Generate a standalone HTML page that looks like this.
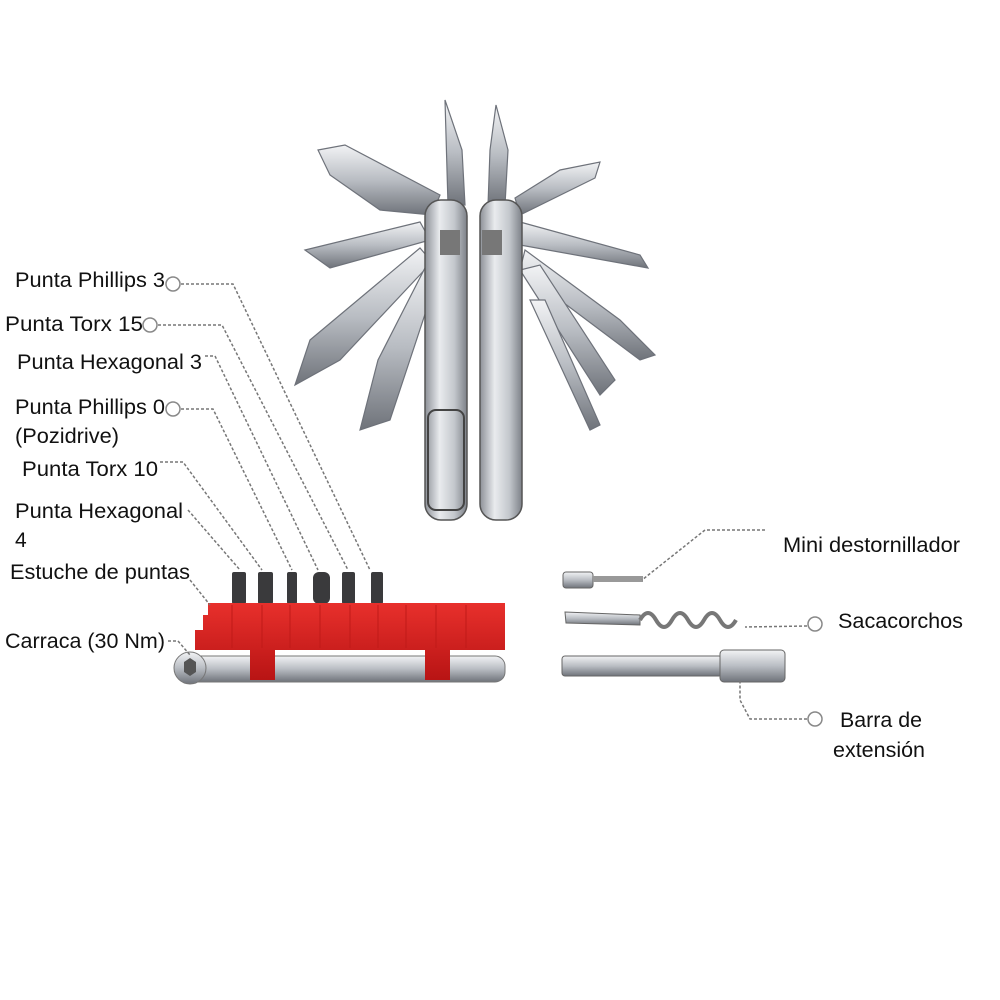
<!DOCTYPE html>
<html><head><meta charset="utf-8"><style>
html,body{margin:0;padding:0;background:#fff;}
svg{display:block;}
text{font-family:"Liberation Sans",Arial,sans-serif;font-size:21px;fill:#111;}
</style></head><body>
<svg width="1000" height="1000" viewBox="0 0 1000 1000" xmlns="http://www.w3.org/2000/svg">
<defs>
<linearGradient id="m" x1="0" y1="0" x2="1" y2="0">
<stop offset="0" stop-color="#8d9198"/><stop offset="0.35" stop-color="#e9ebee"/><stop offset="0.7" stop-color="#c3c7cc"/><stop offset="1" stop-color="#7d8188"/></linearGradient>
<linearGradient id="mv" x1="0" y1="0" x2="0" y2="1">
<stop offset="0" stop-color="#f2f3f5"/><stop offset="0.5" stop-color="#b9bdc3"/><stop offset="1" stop-color="#6f737a"/></linearGradient>
<linearGradient id="r" x1="0" y1="0" x2="0" y2="1">
<stop offset="0" stop-color="#e8302c"/><stop offset="1" stop-color="#b81414"/></linearGradient>
</defs>

<g fill="url(#mv)" stroke="#6e727a" stroke-width="1.2">
<polygon points="318,150 345,145 440,195 432,215 380,210 330,175"/>
<polygon points="305,250 420,222 430,240 330,268"/>
<polygon points="295,385 310,340 420,248 432,262 340,360"/>
<polygon points="360,430 378,360 428,262 438,275 390,420"/>
<polygon points="445,100 462,150 465,205 448,205"/>
<polygon points="496,105 508,150 505,205 488,205 490,150"/>
<polygon points="600,162 595,178 520,215 515,198 560,170"/>
<polygon points="520,222 640,255 648,268 520,245"/>
<polygon points="525,250 620,320 655,355 640,360 520,270"/>
<polygon points="520,270 600,395 615,380 540,265"/>
<polygon points="530,300 590,430 600,425 545,300"/>
</g>
<rect x="425" y="200" width="42" height="320" rx="16" fill="url(#m)" stroke="#555" stroke-width="1.5"/>
<rect x="480" y="200" width="42" height="320" rx="16" fill="url(#m)" stroke="#555" stroke-width="1.5"/>
<rect x="440" y="230" width="20" height="25" fill="#777"/>
<rect x="482" y="230" width="20" height="25" fill="#777"/>
<rect x="428" y="410" width="36" height="100" fill="none" stroke="#444" stroke-width="2" rx="8"/>

<rect x="563" y="572" width="30" height="16" rx="3" fill="url(#mv)" stroke="#666"/>
<rect x="593" y="576" width="50" height="6" fill="#999"/>
<polygon points="565,612 640,615 640,625 566,623" fill="url(#mv)" stroke="#666"/>
<path d="M640,620 q8,-14 16,0 q8,14 16,0 q8,-14 16,0 q8,14 16,0 q8,-14 16,0 q8,14 16,0" fill="none" stroke="#777" stroke-width="4"/>
<rect x="562" y="656" width="160" height="20" rx="3" fill="url(#mv)" stroke="#666"/>
<rect x="720" y="650" width="65" height="32" rx="4" fill="url(#mv)" stroke="#666"/>

<g fill="#3a3a3c">
<rect x="232" y="572" width="14" height="32" rx="2"/>
<rect x="258" y="572" width="15" height="32" rx="2"/>
<rect x="287" y="572" width="10" height="32" rx="2"/>
<rect x="313" y="572" width="17" height="32" rx="6"/>
<rect x="342" y="572" width="13" height="32" rx="2"/>
<rect x="371" y="572" width="12" height="32" rx="2"/>
</g>
<rect x="185" y="656" width="320" height="26" rx="10" fill="url(#mv)" stroke="#777"/>
<circle cx="190" cy="668" r="16" fill="url(#mv)" stroke="#777"/>
<polygon points="184,662 190,658 196,662 196,672 190,676 184,672" fill="#555"/>
<path d="M208,603 L505,603 L505,650 L450,650 L450,680 L425,680 L425,650 L275,650 L275,680 L250,680 L250,650 L195,650 L195,630 L203,630 L203,615 L208,615 Z" fill="url(#r)"/>
<g stroke="#c01a18" stroke-width="1">
<line x1="232" y1="605" x2="232" y2="648"/><line x1="262" y1="605" x2="262" y2="648"/>
<line x1="290" y1="605" x2="290" y2="648"/><line x1="320" y1="605" x2="320" y2="648"/>
<line x1="350" y1="605" x2="350" y2="648"/><line x1="378" y1="605" x2="378" y2="648"/>
<line x1="406" y1="605" x2="406" y2="648"/><line x1="436" y1="605" x2="436" y2="648"/>
<line x1="466" y1="605" x2="466" y2="648"/>
</g>

<g fill="none" stroke="#777" stroke-width="1.5" stroke-dasharray="3,2">
<polyline points="181,284 233,284 370,570"/>
<polyline points="158,325 222,325 348,570"/>
<polyline points="205,356 215,356 318,570"/>
<polyline points="181,409 213,409 292,570"/>
<polyline points="160,462 183,462 262,570"/>
<polyline points="188,510 240,570"/>
<polyline points="190,580 210,605"/>
<polyline points="168,641 178,641 190,655"/>
<polyline points="765,530 705,530 642,580"/>
<polyline points="807,626 745,627"/>
<polyline points="807,719 750,719 740,700 740,680"/>
</g>
<g fill="#fff" stroke="#888" stroke-width="1.5">
<circle cx="173" cy="284" r="7"/>
<circle cx="150" cy="325" r="7"/>
<circle cx="173" cy="409" r="7"/>
<circle cx="815" cy="624" r="7"/>
<circle cx="815" cy="719" r="7"/>
</g>

<g>
<text x="15" y="287" textLength="150" lengthAdjust="spacingAndGlyphs">Punta Phillips 3</text>
<text x="5" y="331" textLength="138" lengthAdjust="spacingAndGlyphs">Punta Torx 15</text>
<text x="17" y="369" textLength="185" lengthAdjust="spacingAndGlyphs">Punta Hexagonal 3</text>
<text x="15" y="414" textLength="150" lengthAdjust="spacingAndGlyphs">Punta Phillips 0</text>
<text x="15" y="443" textLength="104" lengthAdjust="spacingAndGlyphs">(Pozidrive)</text>
<text x="22" y="476" textLength="136" lengthAdjust="spacingAndGlyphs">Punta Torx 10</text>
<text x="15" y="518" textLength="168" lengthAdjust="spacingAndGlyphs">Punta Hexagonal</text>
<text x="15" y="547">4</text>
<text x="10" y="579" textLength="180" lengthAdjust="spacingAndGlyphs">Estuche de puntas</text>
<text x="5" y="648" textLength="160" lengthAdjust="spacingAndGlyphs">Carraca (30 Nm)</text>
<text x="783" y="552" textLength="177" lengthAdjust="spacingAndGlyphs">Mini destornillador</text>
<text x="838" y="628" textLength="125" lengthAdjust="spacingAndGlyphs">Sacacorchos</text>
<text x="840" y="727" textLength="82" lengthAdjust="spacingAndGlyphs">Barra de</text>
<text x="833" y="757" textLength="92" lengthAdjust="spacingAndGlyphs">extensión</text>
</g>
</svg>
</body></html>
